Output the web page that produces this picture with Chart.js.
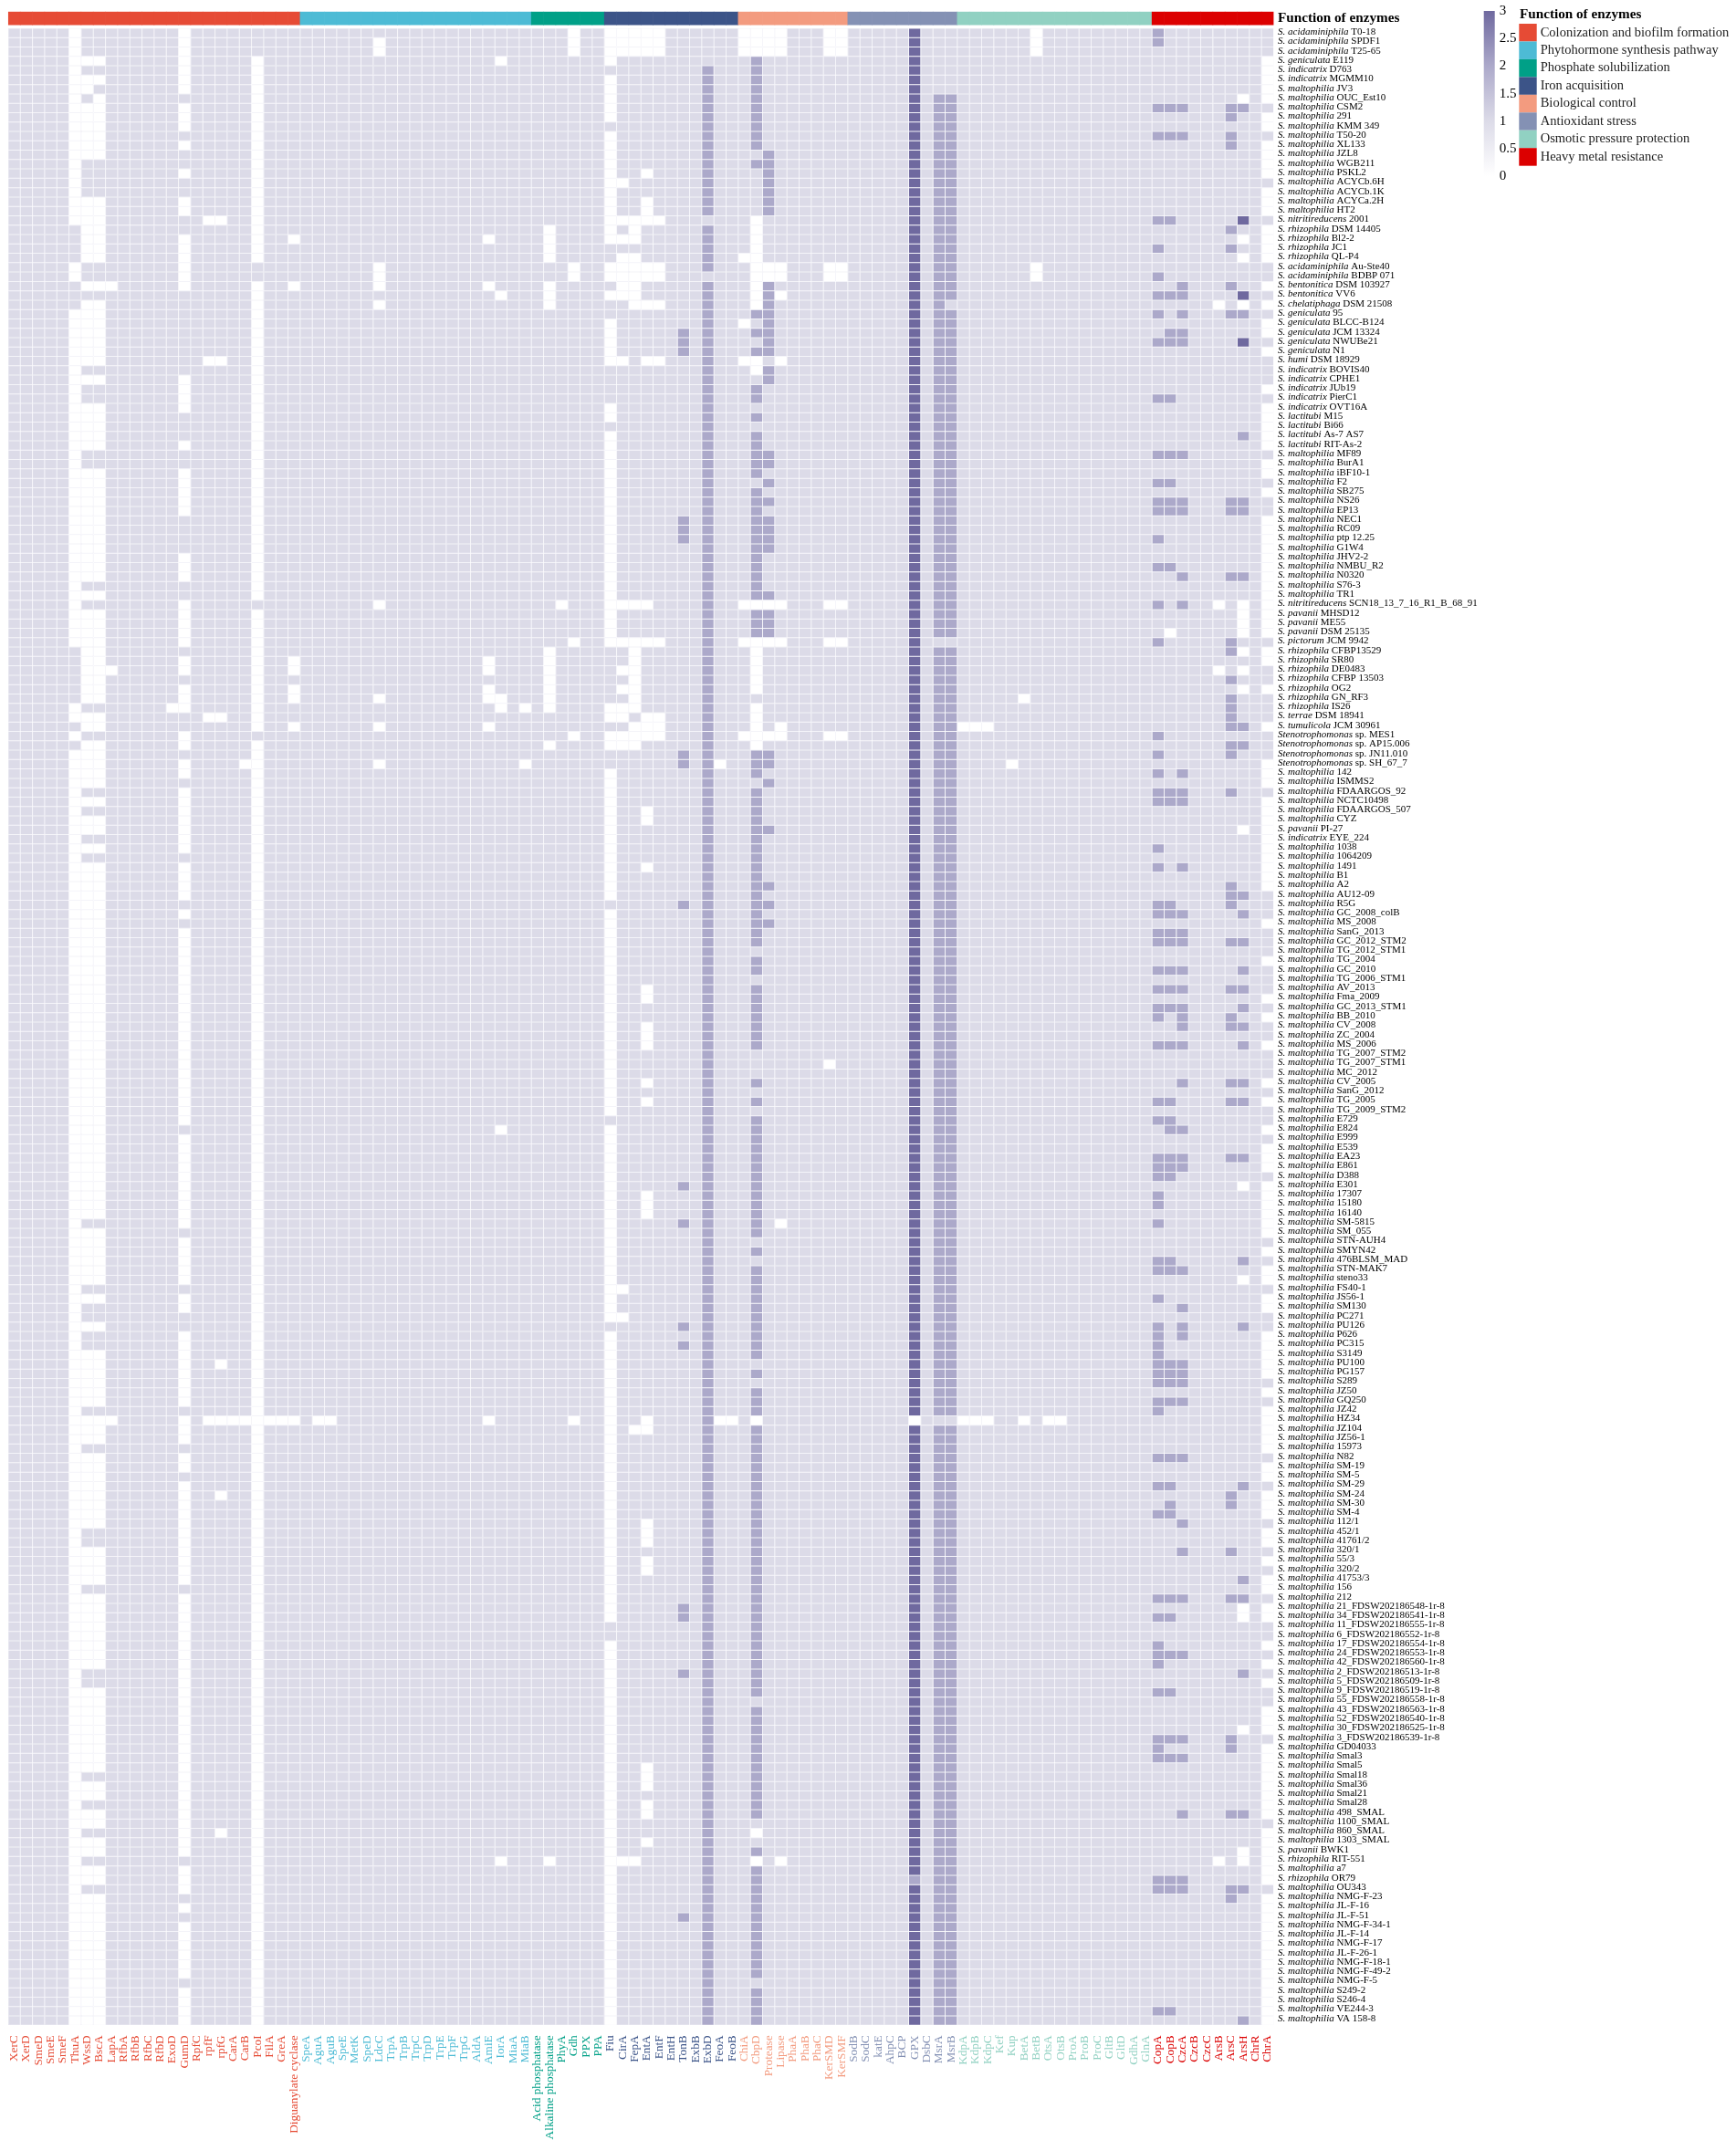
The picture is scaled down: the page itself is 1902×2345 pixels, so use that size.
<!DOCTYPE html>
<html><head><meta charset="utf-8"><title>Function of enzymes heatmap</title>
<style>html,body{margin:0;padding:0;background:#fff}canvas{display:block}</style>
<script src="https://cdn.jsdelivr.net/npm/chart.js@4/dist/chart.umd.min.js"></script>
</head><body><canvas id="c" width="1902" height="2345"></canvas>
<script>
const groupNames=["Colonization and biofilm formation","Phytohormone synthesis pathway","Phosphate solubilization","Iron acquisition","Biological control","Antioxidant stress","Osmotic pressure protection","Heavy metal resistance"];
const groupColors=["#E64B35","#4DBBD5","#00A087","#3C5488","#F39B7F","#8491B4","#91D1C2","#DC0000"];
const colonization=["XerC","XerD","SmeD","SmeE","SmeF","ThuA","WssD","BscA","LapA","RfbA","RfbB","RfbC","RfbD","ExoD","GumD","RpfC","rpfF","rpfG","CarA","CarB","PcoI","FilA","GreA","Diguanylate cyclase"];
const phytohormone=["SpeA","AguA","AguB","SpeE","MetK","SpeD","LdcC","TrpA","TrpB","TrpC","TrpD","TrpE","TrpF","TrpG","AldA","AmiE","IorA","MiaA","MiaB"];
const phosphate=["Acid phosphatase","Alkaline phosphatase","PhyA","Gdh","PPX","PPA"];
const iron=["Fiu","CirA","FepA","EntA","EntF","EntH","TonB","ExbB","ExbD","FeoA","FeoB"];
const biocontrol=["ChiA","CbpD","Protease","Lipase","PhaA","PhaB","PhaC","KerSMD","KerSMF"];
const antioxidant=["SodB","SodC","katE","AhpC","BCP","GPX","DsbC","MsrA","MsrB"];
const osmotic=["KdpA","KdpB","KdpC","Kef","Kup","BetA","BetB","OtsA","OtsB","ProA","ProB","ProC","GltB","GltD","GdhA","GlnA"];
const heavyMetal=["CopA","CopB","CzcA","CzcB","CzcC","ArsB","ArsC","ArsH","ChrR","ChrA"];
const groupColumns=[colonization,phytohormone,phosphate,iron,biocontrol,antioxidant,osmotic,heavyMetal];
const colorbarTicks=["3","2.5","2","1.5","1","0.5","0"];
const strains=["S. acidaminiphila|T0-18","S. acidaminiphila|SPDF1","S. acidaminiphila|T25-65","S. geniculata|E119","S. indicatrix|D763","S. indicatrix|MGMM10","S. maltophilia|JV3","S. maltophilia|OUC_Est10","S. maltophilia|CSM2","S. maltophilia|291","S. maltophilia|KMM 349","S. maltophilia|T50-20","S. maltophilia|XL133","S. maltophilia|JZL8","S. maltophilia|WGB211","S. maltophilia|PSKL2","S. maltophilia|ACYCb.6H","S. maltophilia|ACYCb.1K","S. maltophilia|ACYCa.2H","S. maltophilia|HT2","S. nitritireducens|2001","S. rhizophila|DSM 14405","S. rhizophila|Bl2-2","S. rhizophila|JC1","S. rhizophila|QL-P4","S. acidaminiphila|Au-Ste40","S. acidaminiphila|BDBP 071","S. bentonitica|DSM 103927","S. bentonitica|VV6","S. chelatiphaga|DSM 21508","S. geniculata|95","S. geniculata|BLCC-B124","S. geniculata|JCM 13324","S. geniculata|NWUBe21","S. geniculata|N1","S. humi|DSM 18929","S. indicatrix|BOVIS40","S. indicatrix|CPHE1","S. indicatrix|JUb19","S. indicatrix|PierC1","S. indicatrix|OVT16A","S. lactitubi|M15","S. lactitubi|Bi66","S. lactitubi|As-7 AS7","S. lactitubi|RIT-As-2","S. maltophilia|MF89","S. maltophilia|BurA1","S. maltophilia|iBF10-1","S. maltophilia|F2","S. maltophilia|SB275","S. maltophilia|NS26","S. maltophilia|EP13","S. maltophilia|NEC1","S. maltophilia|RC09","S. maltophilia|ptp 12.25","S. maltophilia|G1W4","S. maltophilia|JHV2-2","S. maltophilia|NMBU_R2","S. maltophilia|N0320","S. maltophilia|S76-3","S. maltophilia|TR1","S. nitritireducens|SCN18_13_7_16_R1_B_68_91","S. pavanii|MHSD12","S. pavanii|ME55","S. pavanii|DSM 25135","S. pictorum|JCM 9942","S. rhizophila|CFBP13529","S. rhizophila|SR80","S. rhizophila|DE0483","S. rhizophila|CFBP 13503","S. rhizophila|OG2","S. rhizophila|GN_RF3","S. rhizophila|IS26","S. terrae|DSM 18941","S. tumulicola|JCM 30961","Stenotrophomonas|sp. MES1","Stenotrophomonas|sp. AP15.006","Stenotrophomonas|sp. JN11.010","Stenotrophomonas|sp. SH_67_7","S. maltophilia|142","S. maltophilia|ISMMS2","S. maltophilia|FDAARGOS_92","S. maltophilia|NCTC10498","S. maltophilia|FDAARGOS_507","S. maltophilia|CYZ","S. pavanii|PI-27","S. indicatrix|EYE_224","S. maltophilia|1038","S. maltophilia|1064209","S. maltophilia|1491","S. maltophilia|B1","S. maltophilia|A2","S. maltophilia|AU12-09","S. maltophilia|R5G","S. maltophilia|GC_2008_colB","S. maltophilia|MS_2008","S. maltophilia|SanG_2013","S. maltophilia|GC_2012_STM2","S. maltophilia|TG_2012_STM1","S. maltophilia|TG_2004","S. maltophilia|GC_2010","S. maltophilia|TG_2006_STM1","S. maltophilia|AV_2013","S. maltophilia|Fma_2009","S. maltophilia|GC_2013_STM1","S. maltophilia|BB_2010","S. maltophilia|CV_2008","S. maltophilia|ZC_2004","S. maltophilia|MS_2006","S. maltophilia|TG_2007_STM2","S. maltophilia|TG_2007_STM1","S. maltophilia|MC_2012","S. maltophilia|CV_2005","S. maltophilia|SanG_2012","S. maltophilia|TG_2005","S. maltophilia|TG_2009_STM2","S. maltophilia|E729","S. maltophilia|E824","S. maltophilia|E999","S. maltophilia|E539","S. maltophilia|EA23","S. maltophilia|E861","S. maltophilia|D388","S. maltophilia|E301","S. maltophilia|17307","S. maltophilia|15180","S. maltophilia|16140","S. maltophilia|SM-5815","S. maltophilia|SM_055","S. maltophilia|STN-AUH4","S. maltophilia|SMYN42","S. maltophilia|476BLSM_MAD","S. maltophilia|STN-MAK7","S. maltophilia|steno33","S. maltophilia|FS40-1","S. maltophilia|JS56-1","S. maltophilia|SM130","S. maltophilia|PC271","S. maltophilia|PU126","S. maltophilia|P626","S. maltophilia|PC315","S. maltophilia|S3149","S. maltophilia|PU100","S. maltophilia|PG157","S. maltophilia|S289","S. maltophilia|JZ50","S. maltophilia|GQ250","S. maltophilia|JZ42","S. maltophilia|HZ34","S. maltophilia|JZ104","S. maltophilia|JZ56-1","S. maltophilia|15973","S. maltophilia|N82","S. maltophilia|SM-19","S. maltophilia|SM-5","S. maltophilia|SM-29","S. maltophilia|SM-24","S. maltophilia|SM-30","S. maltophilia|SM-4","S. maltophilia|112/1","S. maltophilia|452/1","S. maltophilia|41761/2","S. maltophilia|320/1","S. maltophilia|55/3","S. maltophilia|320/2","S. maltophilia|41753/3","S. maltophilia|156","S. maltophilia|212","S. maltophilia|21_FDSW202186548-1r-8","S. maltophilia|34_FDSW202186541-1r-8","S. maltophilia|11_FDSW202186555-1r-8","S. maltophilia|6_FDSW202186552-1r-8","S. maltophilia|17_FDSW202186554-1r-8","S. maltophilia|24_FDSW202186553-1r-8","S. maltophilia|42_FDSW202186560-1r-8","S. maltophilia|2_FDSW202186513-1r-8","S. maltophilia|5_FDSW202186509-1r-8","S. maltophilia|9_FDSW202186519-1r-8","S. maltophilia|55_FDSW202186558-1r-8","S. maltophilia|43_FDSW202186563-1r-8","S. maltophilia|52_FDSW202186540-1r-8","S. maltophilia|30_FDSW202186525-1r-8","S. maltophilia|3_FDSW202186539-1r-8","S. maltophilia|GD04033","S. maltophilia|Smal3","S. maltophilia|Smal5","S. maltophilia|Smal18","S. maltophilia|Smal36","S. maltophilia|Smal21","S. maltophilia|Smal28","S. maltophilia|498_SMAL","S. maltophilia|1100_SMAL","S. maltophilia|860_SMAL","S. maltophilia|1303_SMAL","S. pavanii|BWK1","S. rhizophila|RIT-551","S. maltophilia|a7","S. rhizophila|OR79","S. maltophilia|OU343","S. maltophilia|NMG-F-23","S. maltophilia|JL-F-16","S. maltophilia|JL-F-51","S. maltophilia|NMG-F-34-1","S. maltophilia|JL-F-14","S. maltophilia|NMG-F-17","S. maltophilia|JL-F-26-1","S. maltophilia|NMG-F-18-1","S. maltophilia|NMG-F-49-2","S. maltophilia|NMG-F-5","S. maltophilia|S249-2","S. maltophilia|S246-4","S. maltophilia|VE244-3","S. maltophilia|VA 158-8"];
// One entry per strain: column indexes with value 0 | value 2 | value 3; all other cells are 1.
const cells=[
"5 14 46 49 50 51 52 53 60 61 62 63 67 68 84|94|74",
"5 14 30 46 49 50 51 52 53 60 61 62 63 67 68 84|94|74",
"5 14 30 46 49 50 51 52 53 60 61 62 63 67 68 84||74",
"5 6 7 14 20 40 49 103|61|74",
"5 14 20 103|57 61|74",
"5 6 7 14 20 49 103|57 61|74",
"5 6 14 20 49 103|57 61|74",
"5 7 20 49 101 103|57 61 76 77|74",
"5 6 7 14 20 49|57 61 76 77 94 95 96 100 101|74",
"5 6 7 14 20 49 103|57 61 76 77 100|74",
"5 6 7 14 20 103|57 61 76 77|74",
"5 6 7 20 49|57 61 76 77 94 95 96 100|74",
"5 6 7 14 20 49 103|57 61 76 77 100|74",
"5 6 7 20 49 103|57 62 76 77|74",
"5 20 49 103|57 61 62 76 77|74",
"5 14 20 49 52 103|57 62 76 77|74",
"5 20 49 50|57 62 76 77|74",
"5 20 49 103|57 62 76 77|74",
"5 6 7 14 20 49 52 103|57 62 76 77|74",
"5 6 7 14 20 49 52 103|57 62 76 77|74",
"5 6 7 16 17 20 49 50 51 52 53 61|76 77 94 95|74 101",
"6 7 20 44 49 51 61 103|57 76 77 100|74",
"6 7 14 20 23 39 44 49 50 51 61 101 103|57 76 77|74",
"6 7 14 20 44 61 103|57 76 77 94 100|74",
"6 7 14 20 44 50 51 60 61 101 103|57 76 77|74",
"5 14 30 46 49 50 51 52 53 61 62 63 67 68 84|57 76 77|74",
"5 14 30 46 49 50 51 52 53 61 62 63 67 68 84|76 77 94|74",
"6 7 8 14 20 23 30 39 44 50 51 61 103|57 62 76 77 96 100|74",
"20 40 44 49 50 51 61 63|57 62 76 77 94 95 96|74 101",
"6 7 20 30 44 51 52 53 61 99 101 103|57 62 76|74",
"5 6 7 20|57 61 62 76 77 94 96 100 101|74",
"5 6 7 20 49 60 103|57 62 76 77|74",
"5 6 7 20 49 103|55 57 61 62 76 77 95 96|74",
"5 6 7 20 49|55 57 62 76 77 94 95 96|74 101",
"5 6 7 20 49 103|55 57 61 62 76 77|74",
"5 6 7 16 17 20 49 50 52 53 60 61 63|57 76 77|74",
"5 20 61|57 62 76 77|74",
"5 6 7 14 20|57 62 76 77|74",
"5 14 20 103|57 61 76 77|74",
"5 14 20|57 61 76 77 94 95|74",
"5 6 7 14 20 49 103|57 76 77|74",
"5 6 7 20 49 103|57 61 76 77|74",
"5 6 7 20 103|57 76 77|74",
"5 6 7 20 49 103|57 61 76 77 101|74",
"5 6 7 14 20 49 103|57 61 76 77|74",
"5 20 49|57 61 62 76 77 94 95 96|74",
"5 20 49 103|57 61 62 76 77|74",
"5 6 7 14 20 49 103|57 61 76 77|74",
"5 6 7 14 20 49|57 62 76 77 94 95|74",
"5 6 7 14 20 49 103|57 61 76 77|74",
"5 6 7 14 20 49|57 61 62 76 77 94 95 96 100 101|74",
"5 6 7 14 20 49|57 61 76 77 94 95 96 100 101|74",
"5 6 7 20 49 103|55 57 61 62 76 77|74",
"5 6 7 20 49 103|55 57 61 62 76 77|74",
"5 6 7 20 49 103|55 57 61 62 76 77 94|74",
"5 6 7 20 49 103|57 61 62 76 77|74",
"5 6 7 14 20 49 103|57 61 76 77|74",
"5 6 7 14 20 49 103|57 61 76 77 94 95|74",
"5 6 7 14 20 49 103|57 61 76 77 96 100 101|74",
"5 20 49 103|57 61 76 77|74",
"5 6 7 20 49 103|57 61 62 76 77|74",
"5 14 30 45 49 50 51 52 60 61 62 63 67 68 99 101 103|57 76 77 94 96|74",
"5 6 7 14 20 49 101 103|57 61 62 76 77|74",
"5 6 7 14 20 49 101 103|57 61 62 76 77|74",
"5 6 7 14 20 49 95 101 103|57 61 62 76 77|74",
"5 6 7 14 20 46 49 50 51 52 53 60 61 62 63 67 68|57 94 100|74",
"6 7 20 44 51 61 101 103|57 76 77 100|74",
"6 7 14 20 23 39 44 51 61 103|57 76 77|74",
"6 7 8 14 20 23 39 44 50 51 61 99 101|57 76 77|74",
"6 7 20 44 51 61|57 76 77 100|74",
"6 7 14 20 23 39 44 50 51 61 101 103|57 76 77|74",
"6 7 14 20 23 30 39 40 44 51 83|57 76 77 100|74",
"5 13 14 20 40 42 44 49 50 51 61|57 76 77 100|74",
"5 6 7 16 17 20 49 50 52 53 61|57 76 77 100|74",
"6 7 20 23 30 39 51 52 53 61 63 78 79 80 103|57 76 77 100 101|74",
"5 14 46 49 50 51 52 53 60 61 62 63 67 68|57 76 77 94|74",
"6 7 14 20 44 49 50 51 61|57 76 77 100 101|74",
"5 6 7 20|55 57 61 62 76 77 94 100|74",
"5 6 7 14 19 20 30 42 58 82 103|55 57 61 62 76 77|74",
"5 6 7 14 20 49 103|57 61 76 77 94 96|74",
"5 6 7 20 49 103|57 62 76 77|74",
"5 14 20 49|57 61 76 77 94 95 96 100|74",
"5 6 7 14 20 49 103|57 61 76 77 94 95 96|74",
"5 14 20 49 52 103|57 61 76 77|74",
"5 6 7 14 20 49 52 103|57 61 76 77|74",
"5 6 7 14 20 49 101 103|57 61 62 76 77|74",
"5 14 20 49 103|57 61 76 77|74",
"5 6 7 14 20 49 103|57 61 76 77 94|74",
"5 20 49 103|57 61 76 77|74",
"5 6 7 14 20 49 52 103|57 61 76 77 94 96|74",
"5 6 7 14 20 49 103|57 61 76 77|74",
"5 6 7 14 20 49 103|57 61 62 76 77 100|74",
"5 6 7 14 20 49|57 61 76 77 100 101|74",
"5 6 7 20|55 57 61 62 76 77 94 95 100|74",
"5 6 7 14 20 49|57 61 76 77 94 95 96 101|74",
"5 6 7 20 49 103|57 61 62 76 77|74",
"5 6 7 14 20 49|57 61 76 77 94 95 96|74",
"5 6 7 14 20 49|57 61 76 77 94 95 96 100 101|74",
"5 6 7 14 20 49|57 76 77|74",
"5 6 7 14 20 49 103|57 61 76 77|74",
"5 6 7 14 20 49|57 61 76 77 94 95 96 101|74",
"5 6 7 14 20 49|57 76 77|74",
"5 6 7 14 20 49 52|57 61 76 77 94 95 96 100 101|74",
"5 6 7 14 20 49 52 103|57 61 76 77|74",
"5 6 7 14 20 49|57 61 76 77 94 95 96 101|74",
"5 6 7 14 20 49 103|57 61 76 77 94 96 100|74",
"5 6 7 14 20 49 52|57 61 76 77 96 100 101|74",
"5 6 7 14 20 49 52|57 61 76 77|74",
"5 6 7 14 20 49 52 103|57 61 76 77 94 95 96 101|74",
"5 6 7 14 20 49|57 76 77|74",
"5 6 7 14 20 49 67|57 76 77|74",
"5 6 7 14 20 49|57 76 77|74",
"5 6 7 14 20 49 52 103|57 61 76 77 96 100 101|74",
"5 6 7 14 20 49|57 76 77|74",
"5 6 7 14 20 49 52 103|57 61 76 77 94 95 100 101|74",
"5 6 7 14 20 49|57 76 77|74",
"5 6 7 14 20|57 61 76 77 94 95|74",
"5 6 7 20 40 49 103|57 61 76 77 95 96|74",
"5 6 7 14 20 49|57 61 76 77|74",
"5 6 7 14 20 49 103|57 61 76 77|74",
"5 6 7 14 20 49 103|57 61 76 77 94 95 96 100 101|74",
"5 6 7 14 20 49 103|57 61 76 77 94 95 96|74",
"5 6 7 14 20 49|57 61 76 77 94 95|74",
"5 6 7 14 20 49 101 103|55 57 61 76 77|74",
"5 6 7 14 20 49 52 103|57 61 76 77 94|74",
"5 6 7 14 20 49 52 103|57 61 76 77 94|74",
"5 6 7 14 20 49 52 103|57 61 76 77|74",
"5 14 20 49 63 103|55 57 61 76 77 94|74",
"5 6 7 20 49 103|57 61 76 77|74",
"5 6 7 14 20 49|57 76 77|74",
"5 6 7 14 20 49 103|57 61 76 77|74",
"5 6 7 14 20 49|57 76 77 94 95 101|74",
"5 6 7 14 20 49 103|57 61 76 77 94 95 96|74",
"5 6 7 14 20 49 101 103|57 61 76 77|74",
"5 20 49 50|57 61 76 77|74",
"5 6 7 14 20 49 103|57 61 76 77 94|74",
"5 14 20 49 103|57 61 76 77 96|74",
"5 20 49 50|57 61 76 77|74",
"5 6 7 20|55 57 61 76 77 94 96 101|74",
"5 14 20 49 103|57 61 76 77 94 96|74",
"5 14 20 49 103|55 57 61 76 77 94|74",
"5 6 7 14 20 49 103|57 61 76 77 94|74",
"5 6 7 14 17 20 49 103|57 76 77 94 95 96|74",
"5 6 7 14 20 49 103|57 61 76 77 94 95 96|74",
"5 6 7 14 20 49|57 76 77 94 95 96|74",
"5 6 7 14 20 49 103|57 61 76 77|74",
"5 6 7 14 20 49|57 61 76 77 94 95 96|74",
"5 20 49 103|57 61 76 77 94|74",
"5 6 7 8 14 16 17 18 19 20 21 22 23 25 26 39 46 49 52 58 59 61 74 78 79 80 83 85 86 103|57|",
"5 6 7 14 20 49 51 52 103|57 61 76 77|74",
"5 6 7 14 20 49 103|57 61 76 77|74",
"5 20 49 103|57 61 76 77|74",
"5 6 7 14 20 49|57 61 76 77 94 95 96|74",
"5 6 7 14 20 49 103|57 61 76 77|74",
"5 6 7 20 49 103|57 61 76 77|74",
"5 6 7 14 20 49|57 61 76 77 94 95 101|74",
"5 6 7 14 17 20 49 103|57 61 76 77 100|74",
"5 6 7 14 20 49 103|57 61 76 77 95 100|74",
"5 6 7 14 20 49 103|57 61 76 77 94 95|74",
"5 6 7 14 20 49 52|57 61 76 77 96|74",
"5 14 20 49 52 103|57 61 76 77|74",
"5 14 20 49 52 103|57 61 76 77|74",
"5 6 7 14 20 49|57 61 76 77 96 100|74",
"5 6 7 14 20 49 52 103|57 61 76 77|74",
"5 6 7 14 20 49 52|57 61 76 77|74",
"5 6 7 14 20 49 103|57 61 76 77 101|74",
"5 20 49 103|57 61 76 77|74",
"5 6 7 14 20 49|57 61 76 77 94 95 96 100 101|74",
"5 6 7 14 20 49 101 103|55 57 61 76 77|74",
"5 6 7 14 20 49 101 103|55 57 61 76 77 94 95|74",
"5 6 7 14 20|57 61 76 77|74",
"5 6 7 14 20|57 61 76 77|74",
"5 6 7 14 20 49 103|57 61 76 77 94|74",
"5 6 7 14 20 49|57 61 76 77 94 95 96|74",
"5 6 7 14 20 49 103|57 61 76 77 94|74",
"5 14 20 49|55 57 61 76 77 101|74",
"5 14 20 49 103|57 61 76 77|74",
"5 6 7 14 20 49|57 61 76 77 94 95|74",
"5 6 7 14 20 49|57 76 77|74",
"5 6 7 14 20 49 103|57 61 76 77|74",
"5 6 7 14 20 49 103|57 61 76 77|74",
"5 6 7 14 20 49 101 103|57 61 76 77|74",
"5 6 7 14 20 49|57 61 76 77 94 95 96 100|74",
"5 6 7 14 20 49 103|57 61 76 77 94 100|74",
"5 6 7 14 20 49 103|57 61 76 77 94 95 96|74",
"5 6 7 14 20 49 52 103|57 61 76 77|74",
"5 14 20 49 52 103|57 61 76 77|74",
"5 6 7 14 20 49 52 103|57 61 76 77|74",
"5 6 7 14 20 49 103|57 61 76 77|74",
"5 14 20 49 52 103|57 61 76 77|74",
"5 6 7 14 20 49 52 103|57 61 76 77 96 100 101|74",
"5 6 7 14 20 49|57 76 77|74",
"5 14 17 20 49 61 103|57 76 77|74",
"5 6 7 14 20 49 52 103|57 76 77|74",
"5 6 7 14 20 49 101 103|57 61 76 77|74",
"5 20 40 44 49 50 51 61 63 99 101 103|57 76 77|74",
"5 6 7 14 20 49 103|57 61 76 77|74",
"5 6 7 14 20 49 103|57 61 74 76 77 94 95 96|",
"5 14 20 49|57 61 76 77 94 95 96 100 101|74",
"5 6 7 20 49 103|57 61 76 77 100|74",
"5 6 7 14 20 49 103|57 61 76 77|74",
"5 6 7 20 49 103|55 57 61 76 77|74",
"5 6 7 14 20 49 103|57 61 76 77|74",
"5 6 7 14 20 49 103|57 61 76 77|74",
"5 6 7 14 20 49 103|57 61 76 77|74",
"5 6 7 14 20 49 103|57 61 76 77|74",
"5 6 7 14 20 49 103|57 61 76 77|74",
"5 6 7 14 20 49 103|57 61 76 77|74",
"5 6 7 20 49 103|57 76 77|74",
"5 6 7 14 20 49 103|57 61 76 77|74",
"5 6 7 14 20 49 103|57 61 76 77|74",
"5 6 7 14 20 49 103|57 61 76 77 94 95|74",
"5 6 7 14 20 49 103|57 61 76 77 101|74"
];

const columns=groupColumns.flat();
const columnColors=groupColumns.flatMap((g,i)=>g.map(()=>groupColors[i]));
const valueColors={0:"#ffffff",1:"#dcdbe8",2:"#aca9ca",3:"#6f699f"};
const lineColor="#e8e7f1";
const byValue={0:[],1:[],2:[],3:[]};
cells.forEach((row,r)=>{
  const parts=row.split("|").map(s=>s.trim()?s.trim().split(" ").map(Number):[]);
  columns.forEach((name,c)=>{
    let v=1;
    if(parts[0].includes(c))v=0; else if(parts[1].includes(c))v=2; else if(parts[2].includes(c))v=3;
    byValue[v].push({x:name,y:[r,r+1]});
  });
});
const cellSet=v=>({label:"value "+v,data:byValue[v],backgroundColor:valueColors[v],borderColor:lineColor,borderWidth:0.5,borderSkipped:false,inflateAmount:0});
const PLOT={top:12.7,bottom:2219.3,left:8.9,right:1395.5};
const STRIP=[-1.78,-0.36];

const sidePlugin={id:"side",afterDraw(chart){
  const ctx=chart.ctx,y=chart.scales.y;
  ctx.save();
  ctx.textBaseline="middle";ctx.textAlign="left";ctx.fillStyle="#000";
  // strain labels
  strains.forEach((s,r)=>{
    const [sp,st]=s.split("|"),py=y.getPixelForValue(r+0.5)-1-1.5*r/212;
    ctx.font='italic 11px "Liberation Serif"';
    ctx.fillText(sp,1400,py);
    const w=ctx.measureText(sp+" ").width;
    ctx.font='11px "Liberation Serif"';
    ctx.fillText(st,1400+w,py);
  });
  ctx.font='bold 15.2px "Liberation Serif"';
  ctx.fillText("Function of enzymes",1400,20);
  // colour bar
  const g=ctx.createLinearGradient(0,12,0,193);
  g.addColorStop(0,valueColors[3]);g.addColorStop(1/3,valueColors[2]);g.addColorStop(2/3,valueColors[1]);g.addColorStop(1,"#ffffff");
  ctx.fillStyle=g;ctx.fillRect(1625.7,12,12,181);
  ctx.fillStyle="#000";ctx.font='15px "Liberation Serif"';
  colorbarTicks.forEach((t,i)=>ctx.fillText(t,1642.7,12+i*30.2));
  // legend
  ctx.font='bold 15.2px "Liberation Serif"';
  ctx.fillText("Function of enzymes",1665,16.5);
  ctx.font='14.5px "Liberation Serif"';
  groupNames.forEach((n,i)=>{
    const top=26+i*19.46;
    ctx.fillStyle=groupColors[i];ctx.fillRect(1664.3,top,19.4,19.46);
    ctx.fillStyle="#222";ctx.fillText(n,1687.7,top+9.7);
  });
  ctx.restore();
}};

new Chart(document.getElementById("c"),{
  type:"bar",
  data:{labels:columns,datasets:[
    {label:"Function group",data:columns.map(n=>({x:n,y:STRIP})),backgroundColor:columnColors,borderWidth:0},
    cellSet(1),cellSet(0),cellSet(2),cellSet(3)
  ]},
  plugins:[sidePlugin],
  options:{
    responsive:false,animation:false,events:[],
    devicePixelRatio:1,
    layout:{padding:{left:PLOT.left,right:1902-PLOT.right,top:PLOT.top,bottom:0}},
    datasets:{bar:{grouped:false,barPercentage:1,categoryPercentage:1}},
    plugins:{legend:{display:false},tooltip:{enabled:false},title:{display:false}},
    scales:{
      x:{type:"category",offset:true,position:"bottom",grid:{display:false},border:{display:false},
        ticks:{autoSkip:false,minRotation:90,maxRotation:90,padding:3,color:columnColors,font:{family:'"Liberation Serif"',size:13.3}},
        afterFit(s){s.height=2345-PLOT.bottom;s.paddingLeft=0;s.paddingRight=0;}},
      y:{type:"linear",display:false,reverse:true,min:STRIP[0],max:strains.length}
    }
  }
});
</script></body></html>
